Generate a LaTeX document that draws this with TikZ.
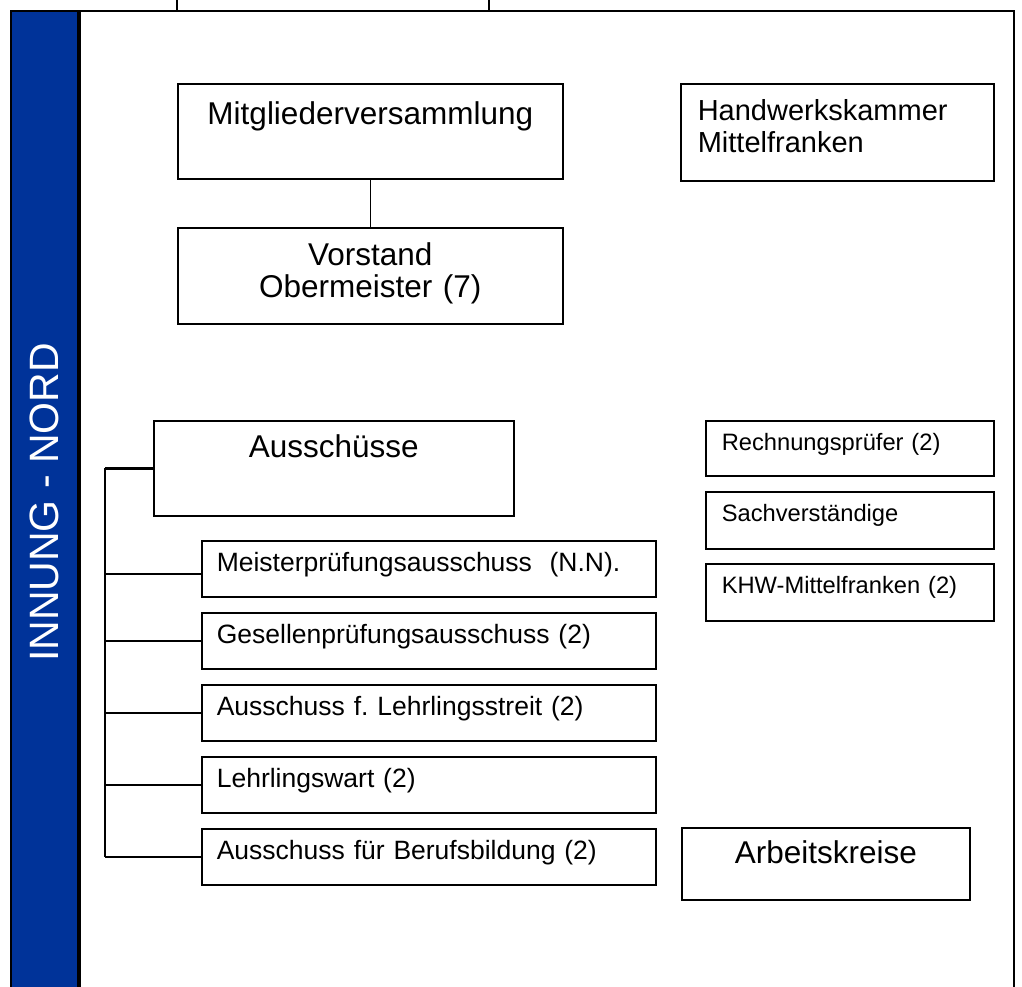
\documentclass[tikz,border=0pt]{standalone}
\usepackage{fontspec}
\setmainfont{Liberation Sans}
\usetikzlibrary{positioning}
\definecolor{innungblue}{RGB}{0,51,153}
\frenchspacing

\begin{document}
\begin{tikzpicture}[x=1pt,y=-1pt,
  box/.style={draw, line width=1.6pt, anchor=north west, inner sep=0pt},
  bigtext/.style={font=\fontsize{31.5}{32}\selectfont},
  midtext/.style={font=\fontsize{26.5}{30}\selectfont},
  smalltext/.style={font=\fontsize{23.7}{28}\selectfont}]
\useasboundingbox (0,0) rectangle (1022,986);

% frame, top box and side bar
\draw[line width=1.6pt] (177,-5) -- (177,11) -- (489,11) -- (489,-5);
\draw[line width=1.6pt] (80,995) -- (80,11) -- (1014,11) -- (1014,995);
\draw[line width=1.6pt, fill=innungblue] (11,995) rectangle (78,11);
\node[rotate=90, white, font=\fontsize{41}{44}\selectfont] (innung) at (44.5,502.5) {INNUNG - NORD};

\node[box, bigtext, align=center, text width=385pt, text height=41pt, text depth=54pt] (mv) at (177,83) {Mitgliederversammlung};
\node[box, align=left, inner xsep=17pt, text width=279pt, text height=37pt, text depth=60pt,
  font=\fontsize{29}{32}\selectfont] (hwk) at (680,83) {Handwerkskammer\\Mittelfranken};
\node[box, bigtext, align=center, text width=385pt, text height=38pt, text depth=58pt] (vs) at (177,227) {Vorstand\\Obermeister (7)};
\node[box, bigtext, align=center, text width=360pt, text height=37pt, text depth=58pt] (au) at (153,420) {Ausschüsse};

\foreach \n/\y/\t in {ms/540/{Meisterprüfungsausschuss \ (N.N).},
                      gp/612/{Gesellenprüfungsausschuss (2)},
                      al/684/{Ausschuss f. Lehrlingsstreit (2)},
                      lw/756/{Lehrlingswart (2)},
                      bb/828/{Ausschuss für Berufsbildung (2)}}
  \node[box, midtext, align=left, inner xsep=15pt, text width=424pt, text height=31pt, text depth=25pt] (\n) at (201,\y) {\t};

\node[box, smalltext, align=left, inner xsep=16pt, text width=256pt, text height=30pt, text depth=25pt] (rp) at (705,420) {Rechnungsprüfer (2)};
\node[box, smalltext, align=left, inner xsep=16pt, text width=256pt, text height=30pt, text depth=27pt] (sv) at (705,491) {Sachverständige};
\node[box, smalltext, align=left, inner xsep=16pt, text width=256pt, text height=30pt, text depth=27pt] (khw) at (705,563) {KHW-Mittelfranken (2)};
\node[box, bigtext, align=center, text width=288pt, text height=36pt, text depth=36pt] (ak) at (681,827) {Arbeitskreise};

\draw[line width=1.6pt] (mv) to (vs);
\draw[line width=2.4pt] (au.west) -- ++(-48,0) coordinate (spine);
\draw[line width=2pt] (spine) -- (spine |- bb.west);
\coordinate (msjoin) at (201,574);
\draw[line width=1.4pt] (spine |- msjoin) to (msjoin);
\foreach \n in {gp,al,lw,bb}
  \draw[line width=1.4pt] (spine |- \n.west) to (\n.west);
\end{tikzpicture}
\end{document}
